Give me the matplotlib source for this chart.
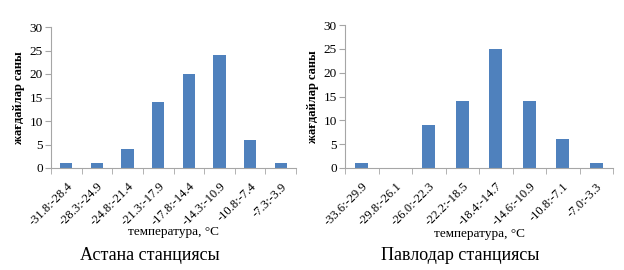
import numpy as np
import matplotlib.pyplot as plt

plt.rcParams['font.family'] = ['Liberation Serif', 'DejaVu Serif']

astana_bins = ["-31.8:-28.4", "-28.3:-24.9", "-24.8:-21.4", "-21.3:-17.9",
               "-17.8:-14.4", "-14.3:-10.9", "-10.8:-7.4", "-7.3:-3.9"]
astana_counts = [1, 1, 4, 14, 20, 24, 6, 1]

pavlodar_bins = ["-33.6:-29.9", "-29.8:-26.1", "-26.0:-22.3", "-22.2:-18.5",
                 "-18.4:-14.7", "-14.6:-10.9", "-10.8:-7.1", "-7.0:-3.3"]
pavlodar_counts = [1, 0, 9, 14, 25, 14, 6, 1]

bar_color = "#4F81BD"
axis_color = "#A6A6A6"

fig = plt.figure(figsize=(6.24, 2.7), dpi=100)
ax1 = fig.add_axes([51/624, 102/270, 245/624, 141/270])
ax2 = fig.add_axes([345/624, 102/270, 268/624, 143/270])


def draw(ax, bins, counts):
    x = np.arange(len(bins))
    ax.bar(x, counts, width=0.4, color=bar_color, zorder=2)
    ax.set_xlim(-0.5, len(bins) - 0.5)
    ax.set_ylim(0, 30)
    ax.set_yticks(range(0, 31, 5))
    ax.set_xticks(x)
    ax.set_xticklabels(bins, rotation=45, ha='right', rotation_mode='anchor', fontsize=9)
    ax.set_xticks(np.arange(-0.5, len(bins)), minor=True)
    ax.tick_params(axis='x', which='major', length=0, pad=9)
    ax.tick_params(axis='x', which='minor', length=4, color=axis_color)
    ax.tick_params(axis='y', length=4, color=axis_color, labelsize=9.5, pad=2)
    for s in ['top', 'right']:
        ax.spines[s].set_visible(False)
    for s in ['left', 'bottom']:
        ax.spines[s].set_color(axis_color)
    ax.set_ylabel("жағдайлар саны", fontsize=9, fontweight='bold', labelpad=3)


draw(ax1, astana_bins, astana_counts)
draw(ax2, pavlodar_bins, pavlodar_counts)

fig.text(173/624, 1 - 232/270, "температура, °С", ha='center', va='center', fontsize=9.5)
fig.text(480/624, 1 - 234/270, "температура, °С", ha='center', va='center', fontsize=9.5)
fig.text(150/624, 1 - 256/270, "Астана станциясы", ha='center', va='center', fontsize=13)
fig.text(460/624, 1 - 256/270, "Павлодар станциясы", ha='center', va='center', fontsize=13)

fig.savefig("out.png", dpi=100)
